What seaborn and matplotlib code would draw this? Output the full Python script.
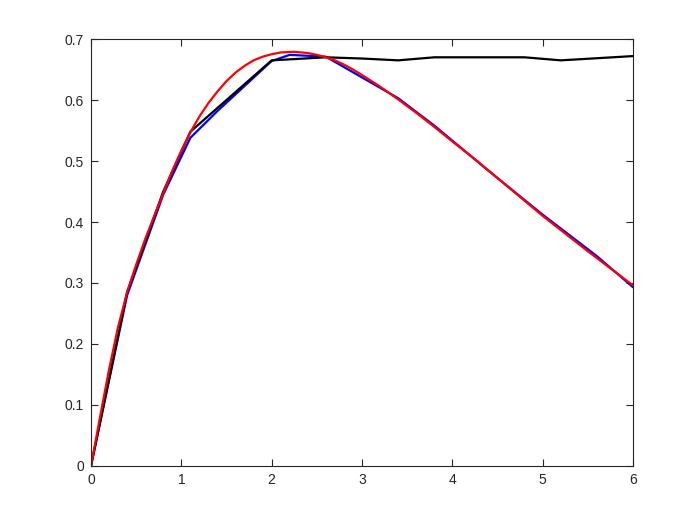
import numpy as np
import pandas as pd
import matplotlib
matplotlib.use("Agg")
import matplotlib.pyplot as plt
import seaborn as sns

# exact-looking curve (red)
t_exact = [0, 0.1, 0.2, 0.3, 0.4, 0.5, 0.6, 0.7, 0.8, 0.9, 1.0, 1.1, 1.2, 1.3,
           1.4, 1.5, 1.6, 1.7, 1.8, 1.9, 2.0, 2.1, 2.25, 2.4, 2.5, 2.6, 2.7,
           2.8, 2.9, 3.0, 3.2, 3.4, 3.6, 3.8, 4.0, 4.25, 4.5, 4.75, 5.0, 5.25,
           5.5, 5.75, 6.0]
y_exact = [0, 0.08, 0.158, 0.228, 0.285, 0.33, 0.372, 0.41, 0.447, 0.484, 0.517,
           0.547, 0.573, 0.595, 0.614, 0.631, 0.645, 0.656, 0.665, 0.671, 0.675,
           0.678, 0.679, 0.677, 0.674, 0.670, 0.665, 0.658, 0.650, 0.641, 0.622,
           0.601, 0.579, 0.556, 0.532, 0.503, 0.472, 0.441, 0.41, 0.381, 0.352,
           0.324, 0.296]

# blue approximation
t_blue = [0, 0.4, 0.8, 1.1, 1.4, 2.0, 2.2, 2.6, 3.4, 3.8, 4.4, 5.0, 5.6, 6.0]
y_blue = [0, 0.28, 0.445, 0.538, 0.582, 0.664, 0.674, 0.671, 0.603, 0.558,
          0.484, 0.412, 0.344, 0.293]

# black approximation
t_black = [0, 0.4, 0.8, 1.1, 2.0, 2.6, 3.0, 3.4, 3.8, 4.8, 5.2, 6.0]
y_black = [0, 0.285, 0.45, 0.548, 0.665, 0.67, 0.668, 0.665, 0.67, 0.67, 0.665, 0.672]

sns.set_style("white")
plt.rcParams['font.family'] = ['Liberation Sans', 'DejaVu Sans']

fig = plt.figure(figsize=(6.81, 5.25), dpi=100)
ax = fig.add_axes([0.1336, 0.1124, 0.796, 0.8133])

sns.lineplot(x=t_blue, y=y_blue, color=(0, 0, 1), lw=1.6, sort=False, estimator=None, ax=ax)
sns.lineplot(x=t_black, y=y_black, color='k', lw=1.6, sort=False, estimator=None, ax=ax)
sns.lineplot(x=t_exact, y=y_exact, color=(1, 0, 0), lw=1.6, sort=False, estimator=None, ax=ax)

ax.set_xlim(0, 6)
ax.set_ylim(0, 0.7)
ax.set_xticks(range(0, 7))
ax.set_yticks(np.arange(0, 0.71, 0.1))
ax.set_yticklabels(['0', '0.1', '0.2', '0.3', '0.4', '0.5', '0.6', '0.7'])

edge = (0.15, 0.15, 0.15)
for s in ax.spines.values():
    s.set_color(edge)
    s.set_linewidth(0.8)
ax.tick_params(direction='in', length=5, width=0.8, top=True, right=True,
               bottom=True, left=True, colors=edge, labelsize=10, labelcolor=edge,
               pad=5)
ax.set_xlabel('')
ax.set_ylabel('')

fig.savefig('out.png', dpi=100)
